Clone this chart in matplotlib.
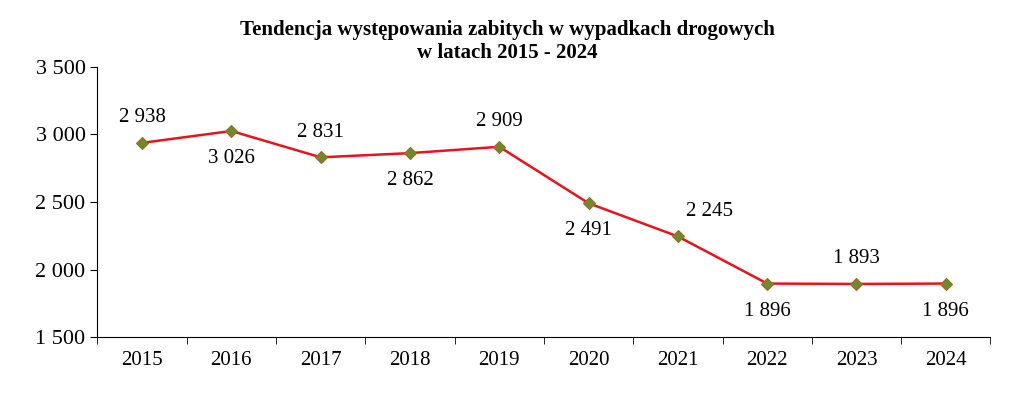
import matplotlib
matplotlib.use("Agg")
import matplotlib.pyplot as plt

years = ["2015","2016","2017","2018","2019","2020","2021","2022","2023","2024"]
values = [2938, 3026, 2831, 2862, 2909, 2491, 2245, 1896, 1893, 1896]
label_pos = ["above","below","above","below","above","below","above","below","above","below"]

plt.rcParams["font.family"] = "Liberation Serif"
fig = plt.figure(figsize=(10.36, 4.11), dpi=100)
ax = fig.add_axes([0.094, 0.18, 0.862, 0.657])
x = list(range(len(years)))
ax.plot(x, values, color="#e8141c", lw=1.8, zorder=2)
ax.plot(x, values, ls="none", marker="D", ms=6, mfc="#6f8a2c", mec="#a06a20", mew=0.8, zorder=3)

def fmt(v):
    return f"{v:,}".replace(",", " ")

for i, (v, p) in enumerate(zip(values, label_pos)):
    dx = 0.25 if years[i] == "2021" else 0
    dy = 18 if p == "above" else -20
    ax.annotate(fmt(v), (i, v), xytext=(dx * 90, dy), textcoords="offset points",
                ha="center", va="center", fontsize=15)

ax.set_xlim(-0.5, len(years) - 0.5)
ax.set_ylim(1500, 3500)
ax.set_yticks([1500, 2000, 2500, 3000, 3500])
ax.set_yticklabels([fmt(t) for t in [1500, 2000, 2500, 3000, 3500]], fontsize=16)
ax.set_xticks(x)
ax.set_xticklabels(years, fontsize=15)
ax.set_xticks([i - 0.5 for i in range(len(years) + 1)], minor=True)
ax.tick_params(axis="x", which="major", length=0, pad=10)
ax.tick_params(axis="x", which="minor", length=5, direction="out")
ax.tick_params(axis="y", length=5, direction="out")
for s in ["top", "right"]:
    ax.spines[s].set_visible(False)
fig.text(0.49, 0.898, "Tendencja występowania zabitych w wypadkach drogowych\nw latach 2015 - 2024",
         fontsize=15, fontweight="bold", ha="center", va="center", linespacing=1.2)
fig.savefig("out.png", dpi=100)
